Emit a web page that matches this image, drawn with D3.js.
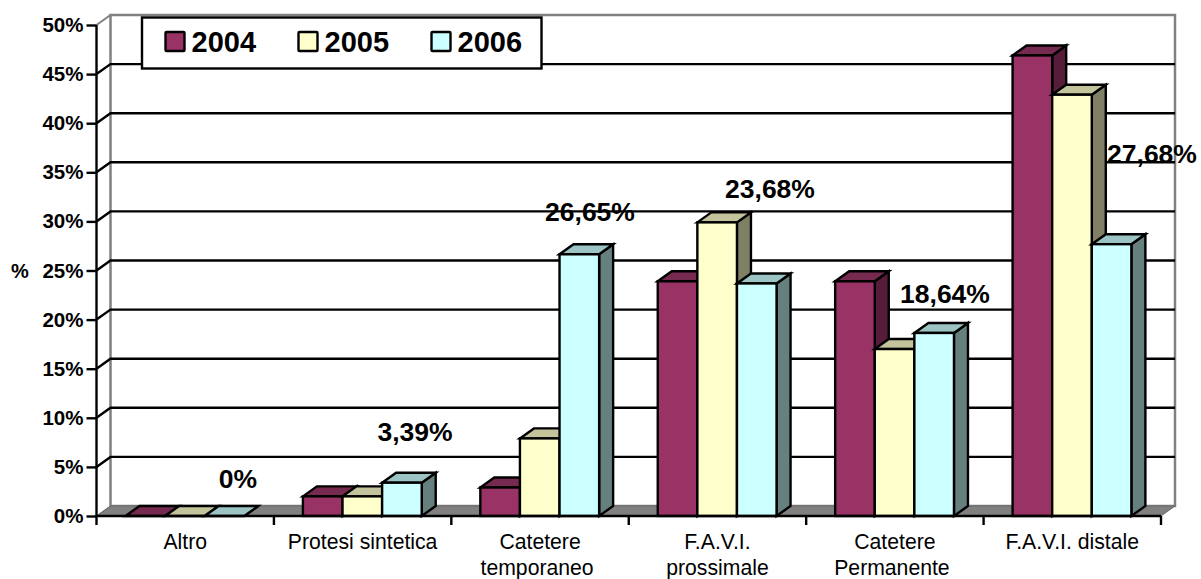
<!DOCTYPE html>
<html><head><meta charset="utf-8">
<script src="https://cdnjs.cloudflare.com/ajax/libs/d3/7.8.5/d3.min.js"></script>
<style>html,body{margin:0;padding:0;background:#fff}svg{display:block}text{font-family:"Liberation Sans",Arial,sans-serif;white-space:pre}</style>
</head><body><svg id="c" width="1201" height="579"></svg>
<script>
const categories = [["Altro"],["Protesi sintetica"],["Catetere","temporaneo "],["F.A.V.I.","prossimale"],["Catetere","Permanente "],["F.A.V.I. distale"]];
const years = ["2004","2005","2006"];
const v2004 = [0,2,2.9,23.9,23.9,46.9];
const v2005 = [0,2,7.9,29.9,17,42.9];
const v2006 = [0,3.39,26.65,23.68,18.64,27.68];
const labelTexts = ["0%","3,39%","26,65%","23,68%","18,64%","27,68%"];
const yTicks = [0,5,10,15,20,25,30,35,40,45,50];
const frontFill = ["#993366","#FFFFCC","#CCFFFF"];
const topFill = ["#762A4F","#C4C49C","#9CC4C4"];
const sideFill = ["#561D3A","#808066","#668080"];

const L=96.5,R=1161,Y0=516,Y50=25,DX=14,DY=10,BARW=39.6,GAP=29,SW=2.4;
const svg=d3.select("#c");
const y=d3.scaleLinear().domain([0,50]).range([Y0,Y50]);
const x=d3.scaleBand().domain(d3.range(categories.length)).range([L,R]);
const series=[v2004,v2005,v2006];

// back wall
svg.append("rect").attr("x",L+DX).attr("y",y(50)-DY).attr("width",R-L).attr("height",Y0-Y50)
 .attr("fill","#fff").attr("stroke","#808080").attr("stroke-width",2.5);
// floor
svg.append("path").attr("d",`M${L},${Y0}L${L+DX},${Y0-DY}H${R+DX}L${R},${Y0}Z`).attr("fill","#808080").attr("stroke","#6a6a6a").attr("stroke-width",1);
// gridlines on back and left walls
yTicks.filter(d=>d>0&&d<50).forEach(d=>{
 svg.append("path").attr("d",`M${L},${y(d)}L${L+DX},${y(d)-DY}H${R+DX}`).attr("fill","none").attr("stroke","#000").attr("stroke-width",SW);
});
svg.append("path").attr("d",`M${L},${y(50)}L${L+DX},${y(50)-DY}`).attr("fill","none").attr("stroke","#808080").attr("stroke-width",2);
svg.append("path").attr("d",`M${L},${Y0}L${L+DX},${Y0-DY}`).attr("fill","none").attr("stroke","#6a6a6a").attr("stroke-width",1);

// bars
categories.forEach((c,i)=>{
 series.forEach((s,k)=>{
  const x0=x(i)+GAP+k*BARW, x1=x0+BARW, t=y(s[i]);
  const g=svg.append("g").attr("stroke","#000").attr("stroke-width",SW).attr("stroke-linejoin","miter");
  g.append("path").attr("d",`M${x1},${t}L${x1+DX},${t-DY}V${Y0-DY}L${x1},${Y0}Z`).attr("fill",sideFill[k]);
  g.append("path").attr("d",`M${x0},${t}L${x0+DX},${t-DY}H${x1+DX}L${x1},${t}Z`).attr("fill",topFill[k]);
  g.append("rect").attr("x",x0).attr("y",t).attr("width",BARW).attr("height",Y0-t).attr("fill",frontFill[k]);
 });
});

// y axis
const ya=d3.axisLeft(y).tickValues(yTicks).tickFormat(d=>d+"%").tickSize(10).tickPadding(3);
const yg=svg.append("g").attr("transform",`translate(${L},0)`).call(ya);
yg.select(".domain").attr("stroke","#000").attr("stroke-width",SW).attr("d",`M0,${Y50}V${Y0}`);
yg.selectAll(".tick line").attr("stroke","#000").attr("stroke-width",SW);
yg.selectAll(".tick text").attr("fill","#000").attr("font-size",20.5).attr("font-weight","bold").attr("font-family",'"Liberation Sans",Arial,sans-serif').attr("dy","0.32em");

// x axis
svg.append("line").attr("x1",L).attr("x2",R).attr("y1",Y0).attr("y2",Y0).attr("stroke","#000").attr("stroke-width",SW);
d3.range(categories.length+1).forEach(i=>{
 const px=L+i*x.step();
 svg.append("line").attr("x1",px).attr("x2",px).attr("y1",Y0).attr("y2",Y0+9).attr("stroke","#000").attr("stroke-width",SW);
});
categories.forEach((c,i)=>{
 const t=svg.append("text").attr("text-anchor","middle").attr("font-size",21.2).attr("fill","#000");
 c.forEach((ln,j)=>t.append("tspan").attr("x",x(i)+x.bandwidth()/2).attr("y",549+j*25.5).text(ln));
});

// axis title
svg.append("text").attr("x",20).attr("y",278).attr("text-anchor","middle").attr("font-size",20).attr("font-weight","bold").text("%");

// value labels
const labelCx=[238,415,590,770,945,1152], labelBase=[488,441,221,198,303,163];
labelTexts.forEach((t,i)=>svg.append("text").attr("x",labelCx[i]).attr("y",labelBase[i]).attr("text-anchor","middle").attr("font-size",26.5).attr("font-weight","bold").text(t));

// legend
svg.append("rect").attr("x",142).attr("y",17.5).attr("width",399.5).attr("height",51).attr("fill","#fff").attr("stroke","#000").attr("stroke-width",SW);
years.forEach((yr,k)=>{
 const lx=165.5+k*133;
 svg.append("rect").attr("x",lx).attr("y",32).attr("width",19).attr("height",19).attr("rx",1).attr("fill",frontFill[k]).attr("stroke","#000").attr("stroke-width",SW);
 svg.append("text").attr("x",lx+26).attr("y",52).attr("font-size",29).attr("font-weight","bold").text(yr);
});
</script></body></html>
